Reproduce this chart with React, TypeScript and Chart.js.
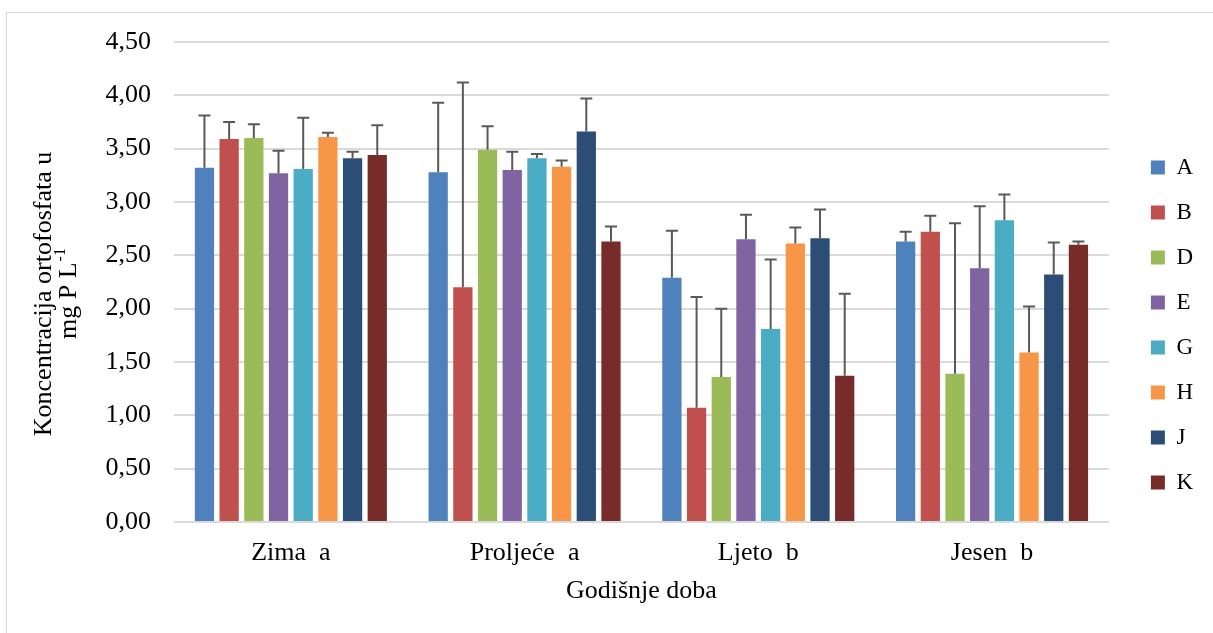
import React, { useEffect, useRef } from 'react';
import { Chart, registerables } from 'chart.js';

Chart.register(...registerables);

const FONT = '"Liberation Serif", "Times New Roman", serif';

const categories = ['Zima  a', 'Proljeće  a', 'Ljeto  b', 'Jesen  b'];
const seriesNames = ['A', 'B', 'D', 'E', 'G', 'H', 'J', 'K'];
const seriesColors = ['#4F81BD', '#C0504D', '#9BBB59', '#8064A2', '#4BACC6', '#F79646', '#2C4D75', '#772C2A'];

const valuesA = [3.32, 3.28, 2.29, 2.63];
const valuesB = [3.59, 2.2, 1.07, 2.72];
const valuesD = [3.6, 3.49, 1.36, 1.39];
const valuesE = [3.27, 3.3, 2.65, 2.38];
const valuesG = [3.31, 3.41, 1.81, 2.83];
const valuesH = [3.61, 3.33, 2.61, 1.59];
const valuesJ = [3.41, 3.66, 2.66, 2.32];
const valuesK = [3.44, 2.63, 1.37, 2.6];

const errA = [0.49, 0.65, 0.44, 0.09];
const errB = [0.16, 1.92, 1.04, 0.15];
const errD = [0.13, 0.22, 0.64, 1.41];
const errE = [0.21, 0.17, 0.23, 0.58];
const errG = [0.48, 0.04, 0.65, 0.24];
const errH = [0.04, 0.06, 0.15, 0.43];
const errJ = [0.06, 0.31, 0.27, 0.3];
const errK = [0.28, 0.14, 0.77, 0.03];

const seriesValues = [valuesA, valuesB, valuesD, valuesE, valuesG, valuesH, valuesJ, valuesK];
const seriesErrors = [errA, errB, errD, errE, errG, errH, errJ, errK];

const yMin = 0;
const yMax = 4.5;
const yStep = 0.5;

const yTitleLine1 = 'Koncentracija ortofosfata u';
const yTitleLine2 = 'mg P L';
const yTitleSup = '-1';
const xTitle = 'Godišnje doba';

const errorBarPlugin = {
  id: 'errorBars',
  afterDatasetsDraw(chart: any) {
    const ctx = chart.ctx;
    const yScale = chart.scales.y;
    ctx.save();
    ctx.strokeStyle = '#595959';
    ctx.lineWidth = 2;
    chart.data.datasets.forEach((ds: any, i: number) => {
      const meta = chart.getDatasetMeta(i);
      meta.data.forEach((bar: any, j: number) => {
        const v = ds.data[j];
        const e = seriesErrors[i][j];
        const top = yScale.getPixelForValue(v + e);
        ctx.beginPath();
        ctx.moveTo(bar.x, bar.y);
        ctx.lineTo(bar.x, top);
        ctx.moveTo(bar.x - 6, top);
        ctx.lineTo(bar.x + 6, top);
        ctx.stroke();
      });
    });
    ctx.restore();
  },
};

const layoutPlugin = {
  id: 'legendShift',
  afterLayout(chart: any) {
    const lg = chart.legend;
    if (lg) {
      const w = lg.width;
      lg.left = chart.chartArea.right + 20;
      lg.right = lg.left + w;
    }
  },
};

const yTitlePlugin = {
  id: 'yTitle',
  afterDraw(chart: any) {
    const ctx = chart.ctx;
    const cy = (chart.chartArea.top + chart.chartArea.bottom) / 2 + 12;
    ctx.save();
    ctx.translate(37, cy);
    ctx.rotate(-Math.PI / 2);
    ctx.fillStyle = '#000';
    ctx.textBaseline = 'middle';
    ctx.font = `26px ${FONT}`;
    ctx.textAlign = 'center';
    ctx.fillText(yTitleLine1, 0, 0);
    const w1 = ctx.measureText(yTitleLine2).width;
    ctx.font = `16px ${FONT}`;
    const w2 = ctx.measureText(yTitleSup).width;
    const start = -(w1 + w2) / 2;
    ctx.textAlign = 'left';
    ctx.font = `26px ${FONT}`;
    ctx.fillText(yTitleLine2, start, 25);
    ctx.font = `16px ${FONT}`;
    ctx.fillText(yTitleSup, start + w1 + 1, 17);
    ctx.restore();
  },
};

export default function App() {
  const canvasRef = useRef<HTMLCanvasElement | null>(null);

  useEffect(() => {
    if (!canvasRef.current) return;
    const chart = new Chart(canvasRef.current, {
      type: 'bar',
      data: {
        labels: categories,
        datasets: seriesNames.map((name, i) => ({
          label: name,
          data: seriesValues[i],
          backgroundColor: seriesColors[i],
          borderWidth: 0,
          categoryPercentage: 0.845,
          barPercentage: 0.78,
        })),
      },
      options: {
        animation: false,
        responsive: false,
        devicePixelRatio: 1,
        layout: { padding: { top: 29, right: 32, bottom: 28, left: 0 } },
        plugins: {
          legend: {
            position: 'right',
            labels: {
              boxWidth: 14,
              boxHeight: 14,
              padding: 22,
              color: '#000',
              font: { family: FONT, size: 23 },
            },
          },
          tooltip: { enabled: false },
          title: { display: false },
        },
        scales: {
          x: {
            grid: { display: false, drawTicks: false },
            border: { display: false },
            ticks: { color: '#000', padding: 16, font: { family: FONT, size: 26 } },
            title: {
              display: true,
              text: xTitle,
              color: '#000',
              padding: { top: 0, bottom: 1 },
              font: { family: FONT, size: 26 },
            },
            afterFit(scale: any) {
              scale.height = 86;
            },
          },
          y: {
            min: yMin,
            max: yMax,
            grid: { color: '#dadada', lineWidth: 2, drawTicks: false },
            border: { display: false },
            ticks: {
              stepSize: yStep,
              color: '#000',
              padding: 23,
              font: { family: FONT, size: 26 },
              callback: (v: any) => Number(v).toFixed(2).replace('.', ','),
            },
            afterFit(scale: any) {
              scale.width = 167;
              scale.paddingTop = 0;
              scale.paddingBottom = 0;
            },
          },
        },
      } as any,
      plugins: [errorBarPlugin, layoutPlugin, yTitlePlugin],
    });
    return () => chart.destroy();
  }, []);

  return (
    <div style={{ position: 'fixed', left: 0, top: 0, width: '100vw', height: '100vh', overflow: 'hidden', background: '#fff' }}>
      <div
        style={{
          position: 'absolute',
          left: 6,
          top: 12,
          width: 1210,
          height: 625,
          boxSizing: 'border-box',
          border: '1px solid #d9d9d9',
        }}
      >
        <canvas ref={canvasRef} width={1208} height={623} style={{ display: 'block', width: 1208, height: 623 }} />
      </div>
    </div>
  );
}
